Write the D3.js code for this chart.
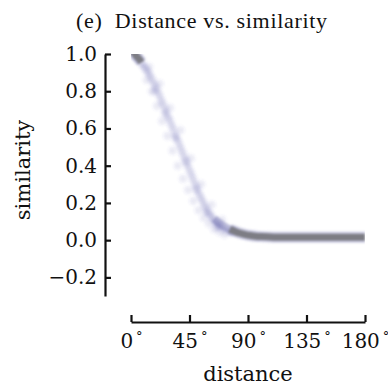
<!DOCTYPE html>
<html><head><meta charset="utf-8">
<script src="https://cdn.jsdelivr.net/npm/d3@7"></script>
<style>html,body{margin:0;padding:0;background:#fff;}svg{display:block;}</style>
</head><body>
<script>
// ---- data ----
const xTicks = [0, 45, 90, 135, 180];
const yTicks = [-0.2, 0.0, 0.2, 0.4, 0.6, 0.8, 1.0];
// dense core of the point cloud (distance in degrees, similarity)
const coreTopDist = [0, 2, 4, 6, 8];
const coreTopSim  = [1.02, 1.01, 0.99, 0.975, 0.955];
const coreMidDist = [64, 68, 72, 76, 80];
const coreMidSim  = [0.115, 0.092, 0.074, 0.059, 0.047];
const coreTailDist = [76, 80, 84, 88, 92, 96, 100, 110, 120, 135, 150, 165, 180];
const coreTailSim  = [0.059, 0.047, 0.037, 0.030, 0.025, 0.021, 0.019, 0.016, 0.015, 0.015, 0.015, 0.015, 0.015];
// scattered individual samples along the slope
const ptDist = [3,5,6,8,9,10,11,12,13,14,15,16,17,18,19,20,21,22,23,24,25,26,27,28,29,30,31,32,33,34,35,36,37,38,39,40,41,42,43,44,45,46,47,48,49,50,51,52,53,54,55,56,57,58,59,60,61,62,63,64,65,66,67,68,69,70,72,74,76,78,
                12,16,20,24,28,32,36,40,44,48,52,56,60,64,68,72, 14,22,30,38,46,54,62,70, 18,26,34,42,50,58,66];
const ptSim  = [0.99,0.975,0.97,0.95,0.945,0.93,0.925,0.91,0.905,0.89,0.88,0.865,0.85,0.835,0.82,0.81,0.79,0.775,0.755,0.74,0.725,0.705,0.69,0.67,0.655,0.64,0.62,0.605,0.585,0.565,0.55,0.535,0.515,0.50,0.48,0.465,0.445,0.43,0.41,0.395,0.375,0.36,0.34,0.325,0.305,0.29,0.275,0.255,0.24,0.225,0.21,0.195,0.18,0.17,0.155,0.145,0.135,0.125,0.115,0.105,0.098,0.09,0.083,0.077,0.071,0.066,0.058,0.05,0.045,0.04,
                0.86,0.80,0.72,0.64,0.56,0.48,0.40,0.33,0.27,0.21,0.16,0.12,0.09,0.06,0.045,0.03, 0.93,0.84,0.71,0.59,0.44,0.30,0.19,0.11, 0.80,0.68,0.55,0.42,0.27,0.15,0.07];

const W = 388, H = 390;
const svg = d3.select("body").append("svg").attr("width", W).attr("height", H);

const x = d3.scaleLinear().domain([0, 180]).range([131, 365]);
const y = d3.scaleLinear().domain([-0.3, 1.0]).range([296, 54]);

const serif = "'DejaVu Serif', serif";
const titleFont = "'Liberation Serif', 'Times New Roman', serif";

// title
svg.append("text").attr("x", 76).attr("y", 28)
  .attr("font-family", titleFont).attr("font-size", 22).attr("fill", "#111")
  .attr("textLength", 251).attr("lengthAdjust", "spacing")
  .attr("xml:space", "preserve").text("(e)  Distance vs. similarity");

// filters / clip
const defs = svg.append("defs");
defs.append("filter").attr("id", "blur").attr("x", "-10%").attr("y", "-10%").attr("width", "120%").attr("height", "120%")
  .append("feGaussianBlur").attr("stdDeviation", 1.3);
defs.append("clipPath").attr("id", "clip").append("rect")
  .attr("x", x(0)).attr("y", y(1.0)).attr("width", x(180) - x(0)).attr("height", y(-0.3) - y(1.0));
const plot = svg.append("g").attr("clip-path", "url(#clip)").append("g").attr("filter", "url(#blur)");

// scattered samples
const pts = ptDist.map((d, i) => [d, ptSim[i]]);
plot.selectAll("circle.halo").data(pts).enter().append("circle")
  .attr("cx", d => x(d[0])).attr("cy", d => y(d[1])).attr("r", 5)
  .attr("fill", "rgb(100,100,175)").attr("fill-opacity", 0.055);
plot.selectAll("circle.pt").data(pts).enter().append("circle")
  .attr("cx", d => x(d[0])).attr("cy", d => y(d[1])).attr("r", 3)
  .attr("fill", "rgb(90,90,160)").attr("fill-opacity", 0.07);

// dense cores
const line = d3.line().x(d => x(d[0])).y(d => y(d[1])).curve(d3.curveMonotoneX);
const topSeg = coreTopDist.map((d, i) => [d, coreTopSim[i]]);
const midSeg = coreMidDist.map((d, i) => [d, coreMidSim[i]]);
const tailSeg = coreTailDist.map((d, i) => [d, coreTailSim[i]]);
plot.append("path").datum(midSeg).attr("d", line).attr("fill", "none")
  .attr("stroke", "rgb(105,105,170)").attr("stroke-opacity", 0.4).attr("stroke-width", 8);
[topSeg, tailSeg].forEach(seg => {
  plot.append("path").datum(seg).attr("d", line).attr("fill", "none")
    .attr("stroke", "rgb(110,110,175)").attr("stroke-opacity", 0.35).attr("stroke-width", 11);
  plot.append("path").datum(seg).attr("d", line).attr("fill", "none")
    .attr("stroke", "rgb(125,125,132)").attr("stroke-width", 7);
});

// axes
const yAxis = d3.axisLeft(y).tickValues(yTicks).tickSizeInner(-6).tickSizeOuter(0).tickPadding(8)
  .tickFormat(d => d3.format(".1f")(d).replace("-", "\u2212"));
const gy = svg.append("g").attr("transform", "translate(105,0)").call(yAxis);
const xAxis = d3.axisBottom(x).tickValues(xTicks).tickSizeInner(-7).tickSizeOuter(0).tickPadding(12)
  .tickFormat(d => d);
const gx = svg.append("g").attr("transform", "translate(0,322)").call(xAxis);

[gx, gy].forEach(g => {
  g.select(".domain").attr("stroke", "#111").attr("stroke-width", 2.2);
  g.selectAll(".tick line").attr("stroke", "#111").attr("stroke-width", 2.2);
  g.selectAll(".tick text").attr("font-family", serif).attr("font-size", 20).attr("fill", "#111");
});
gx.selectAll(".tick text").each(function(d) {
  const t = d3.select(this); t.text(null);
  t.append("tspan").text(d);
  t.append("tspan").attr("dx", 3).attr("dy", -7).attr("font-size", 13).text("\u00b0");
});

// axis labels
svg.append("text").attr("x", 248).attr("y", 381).attr("text-anchor", "middle")
  .attr("font-family", serif).attr("font-size", 21).attr("fill", "#111").text("distance");
svg.append("text").attr("transform", "translate(30,170) rotate(-90)").attr("text-anchor", "middle")
  .attr("font-family", serif).attr("font-size", 21).attr("fill", "#111").text("similarity");
</script>
</body></html>
